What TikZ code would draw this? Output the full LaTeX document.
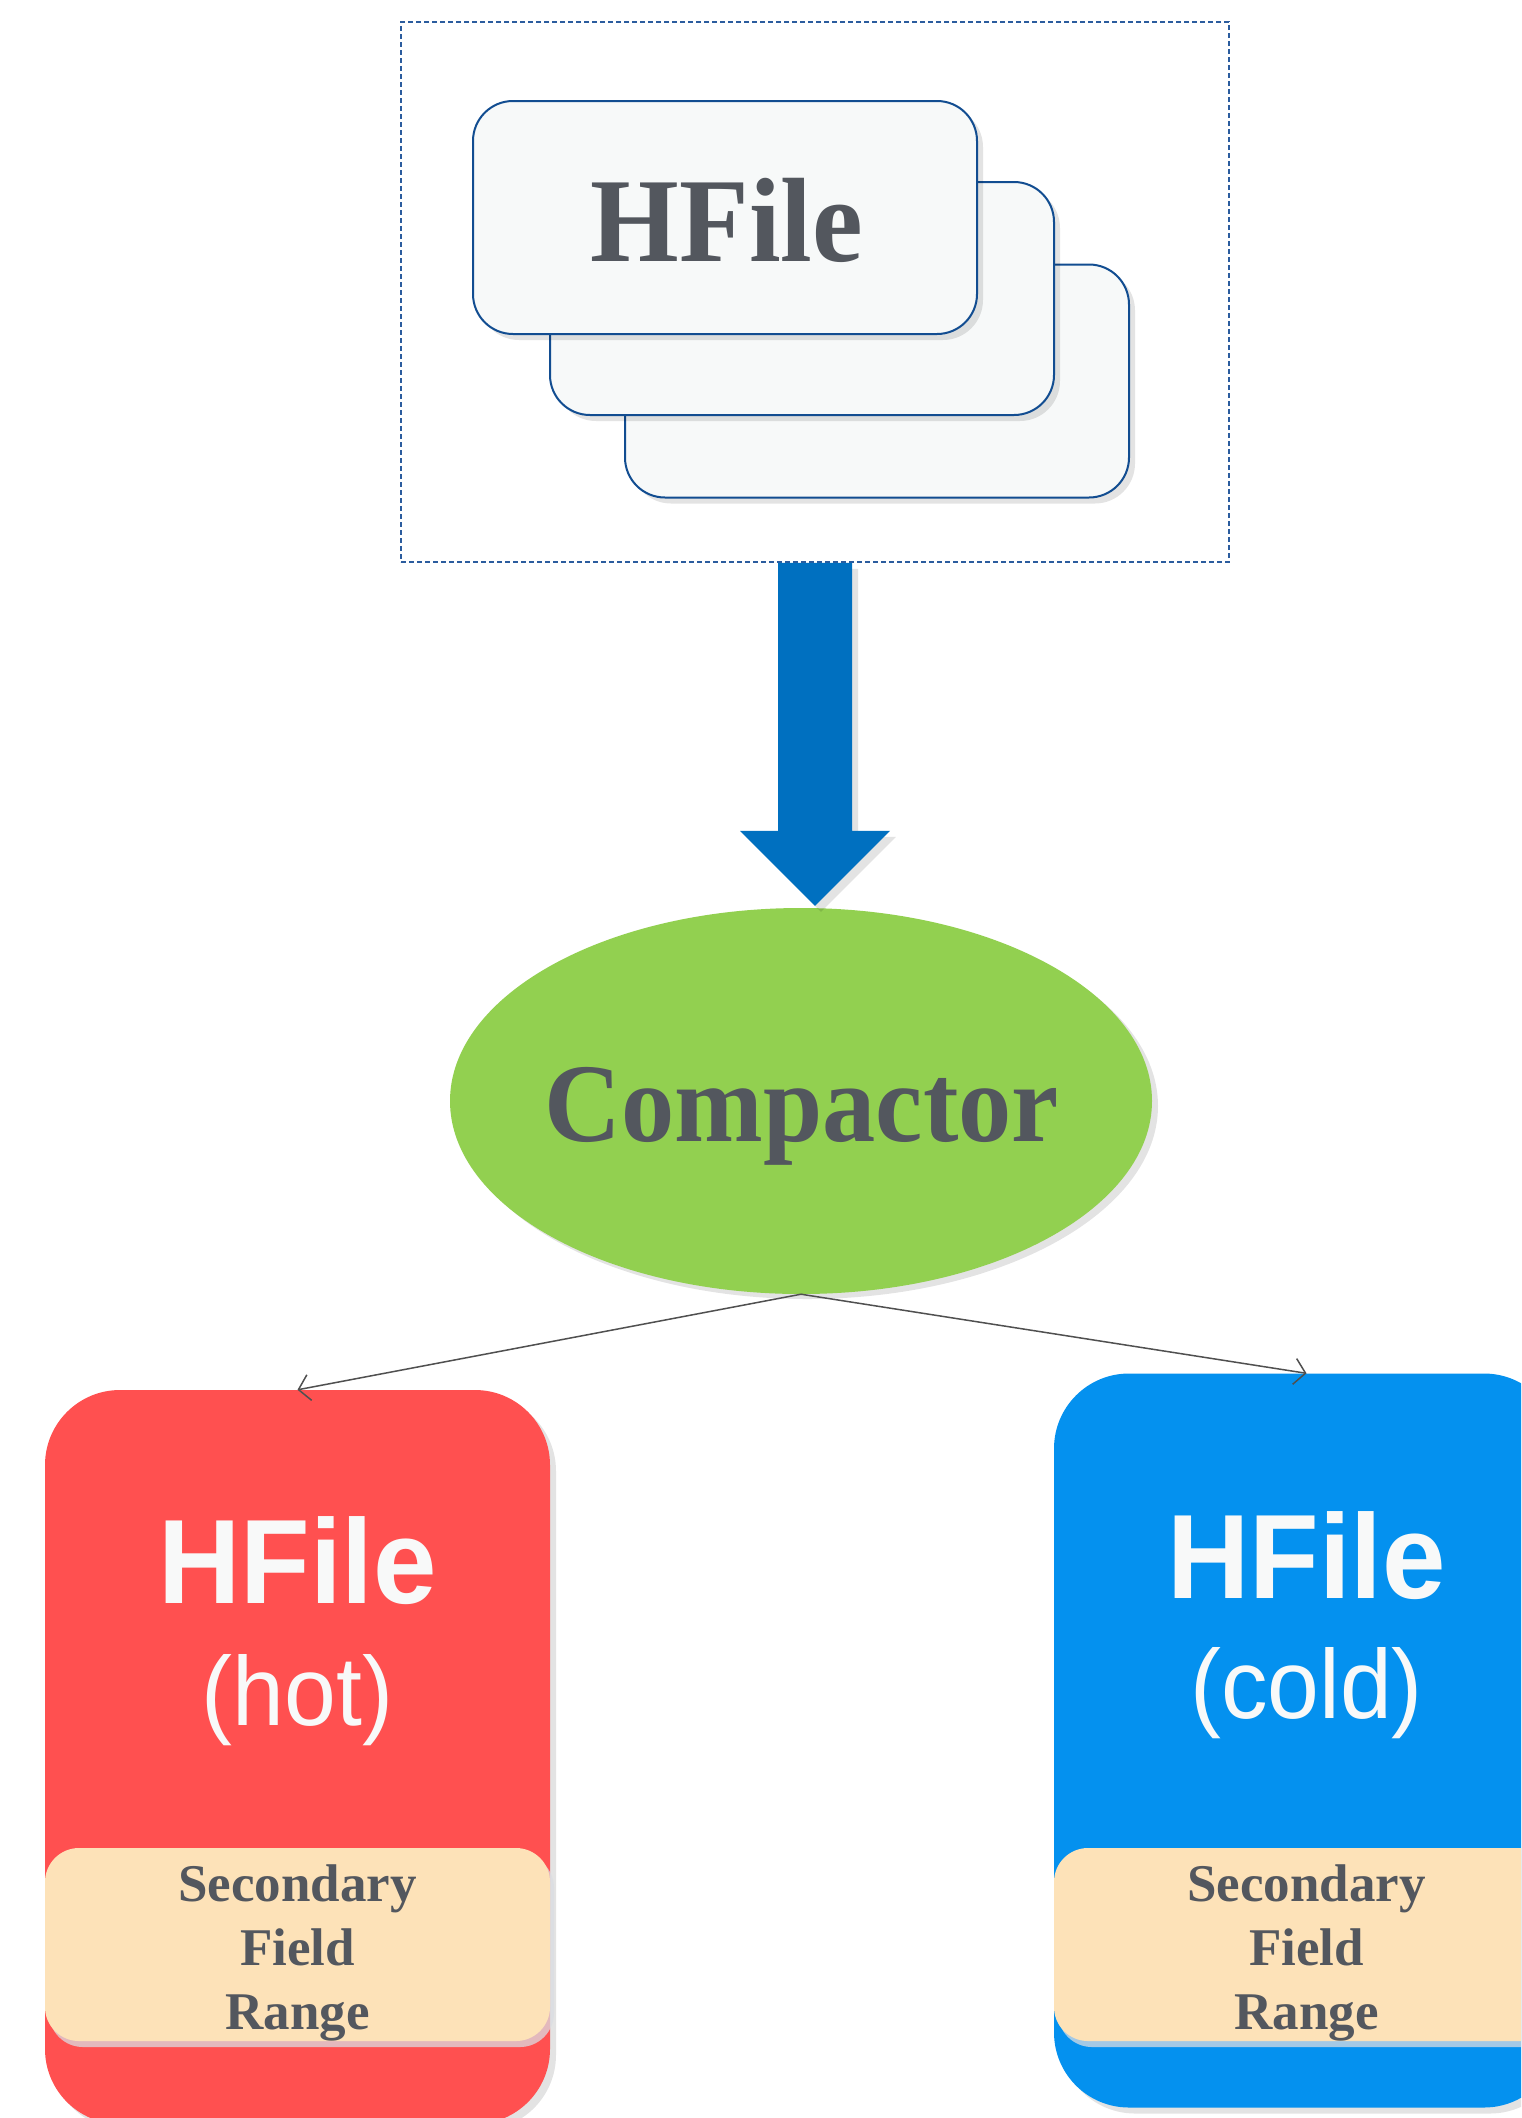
\documentclass[tikz,border=0pt]{standalone}
\usepackage{fontspec}
\setmainfont{Liberation Serif}
\setsansfont{Liberation Sans}
\usetikzlibrary{shapes.geometric,arrows.meta,shadows,calc}

\definecolor{cardline}{HTML}{124D91}
\definecolor{cardfill}{HTML}{F7F9F9}
\definecolor{frameblue}{HTML}{2B5C9E}
\definecolor{flowblue}{HTML}{0070C0}
\definecolor{compgreen}{HTML}{92D050}
\definecolor{inkgray}{HTML}{53575E}
\definecolor{hotred}{HTML}{FF5050}
\definecolor{coldblue}{HTML}{0491EF}
\definecolor{bandtan}{HTML}{FDE2B8}
\definecolor{linkgray}{HTML}{505050}
\definecolor{textwhite}{HTML}{F8F9F9}
\definecolor{haze}{HTML}{DADDE2}

% slightly condensed lettering
\newcommand\narrow[1]{\scalebox{0.95}[1]{#1}}

\begin{document}
\begin{tikzpicture}[x=1pt,y=-1pt,
  softshadow/.style={drop shadow={shadow xshift=6pt,shadow yshift=-6pt,fill=black,opacity=0.11}},
  card/.style={draw=cardline,line width=2pt,fill=cardfill,rounded corners=40pt,
    minimum width=504pt,minimum height=233pt,inner sep=0pt,softshadow},
  filebox/.style={rounded corners=75pt,minimum width=505pt,minimum height=734pt,
    inner sep=0pt,softshadow},
  band/.style={fill=bandtan,rounded corners=34pt,minimum width=505pt,minimum height=193pt,
    inner sep=0pt,drop shadow={shadow xshift=4pt,shadow yshift=-6pt,fill=haze,opacity=0.75}},
  bandtext/.style={font=\fontsize{53}{64}\selectfont\bfseries,text=inkgray,align=center,inner sep=0pt},
  bigname/.style={anchor=base,text=textwhite,inner sep=0pt,font=\sffamily\bfseries\fontsize{120}{120}\selectfont},
  tagname/.style={anchor=base,text=textwhite,inner sep=0pt,font=\sffamily\fontsize{98}{98}\selectfont},
  link/.style={draw=linkgray,line width=1.5pt,-{Straight Barb[length=11pt,width=26pt]}},
]
\useasboundingbox (0,0) rectangle (1521,2118);
\clip (0,0) rectangle (1521,2118);
\fill[white] (0,0) rectangle (1521,2118);

% input files in a dashed frame
\node (stack) [draw=frameblue,line width=1.5pt,dash pattern=on 5pt off 3pt,
  minimum width=828pt,minimum height=540pt,inner sep=0pt] at (815,292) {};
\node (card3) [card] at (877,381) {};
\node (card2) [card] at (802,298.5) {};
\node (card1) [card] at (725,217.5) {};
\node (cardtext) [anchor=base,text=inkgray,inner sep=0pt,
  font=\fontsize{120}{120}\selectfont\bfseries] at (727,261) {\narrow{HFile}};

% compactor
\node (comp) [ellipse,fill=compgreen,minimum width=702pt,minimum height=386pt,inner sep=0pt,
  drop shadow={shadow xshift=6pt,shadow yshift=-5pt,fill=black,opacity=0.11}] at (801,1101) {};
\node (comptext) [anchor=base,text=inkgray,inner sep=0pt,
  font=\fontsize{112}{112}\selectfont\bfseries] at (802,1141) {\narrow{Compactor}};

% block arrow from the frame down to the compactor
\coordinate (tip) at ([yshift=2pt]stack.south |- comp.north);
\fill[flowblue,softshadow]
  ([xshift=-37pt]stack.south) -- ([xshift=37pt]stack.south)
  -- ([xshift=37pt,yshift=75pt]tip) -- ([xshift=75pt,yshift=75pt]tip)
  -- (tip)
  -- ([xshift=-75pt,yshift=75pt]tip) -- ([xshift=-37pt,yshift=75pt]tip)
  -- cycle;

% output files
\node (hot) [filebox,fill=hotred] at (297.5,1757) {};
\node (hotband) [band] at (297.5,1944.5) {};
\node (hotname) [bigname] at (297.5,1603) {\narrow{HFile}};
\node (hottag) [tagname] at (297.5,1725) {\narrow{(hot)}};
\node (hotrange) [bandtext] at (297.5,1953) {Secondary\\Field\\Range};

\node (cold) [filebox,fill=coldblue] at (1306.5,1740.5) {};
\node (coldband) [band] at (1306.5,1944.5) {};
\node (coldname) [bigname] at (1306.5,1598) {\narrow{HFile}};
\node (coldtag) [tagname] at (1306.5,1718) {\narrow{(cold)}};
\node (coldrange) [bandtext] at (1306.5,1953) {Secondary\\Field\\Range};

% split links
\draw[link] (comp.south) -- (hot.north);
\draw[link] (comp.south) -- (cold.north);
\end{tikzpicture}
\end{document}
